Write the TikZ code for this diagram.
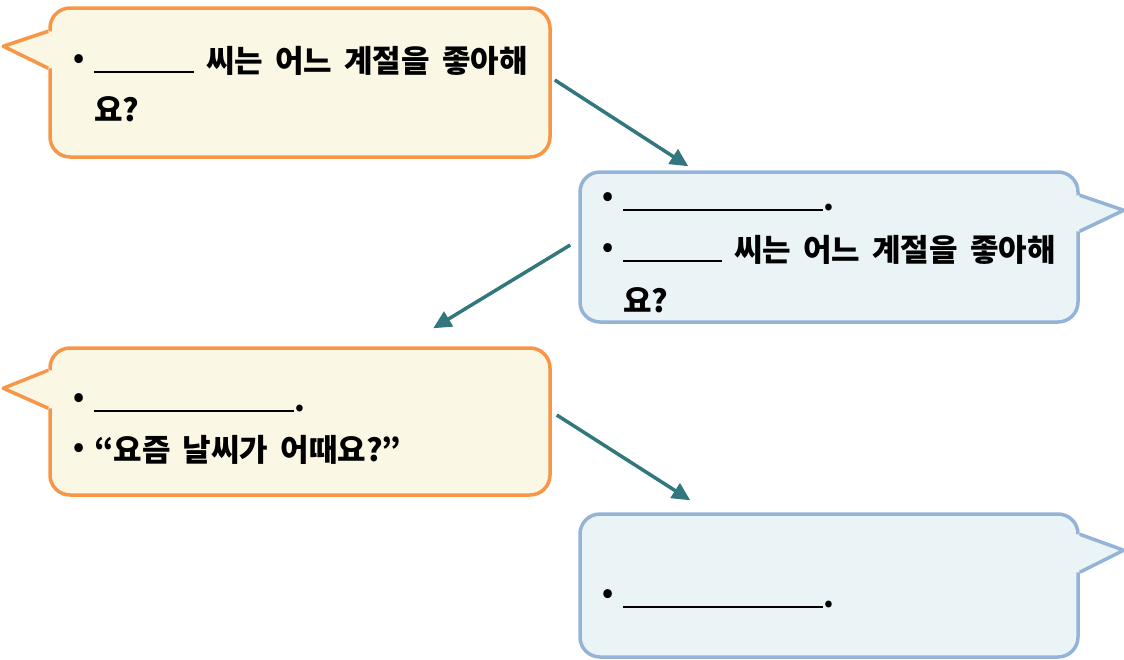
\documentclass[tikz,border=0pt]{standalone}
\usepackage{fontspec}
\setmainfont{Noto Sans CJK KR}[WordSpace=1.7]
\usetikzlibrary{arrows.meta}

\definecolor{qborder}{RGB}{247,150,70}
\definecolor{qfill}{RGB}{250,248,228}
\definecolor{aborder}{RGB}{149,179,215}
\definecolor{afill}{RGB}{234,244,247}
\definecolor{flowteal}{RGB}{49,119,125}

\newcommand{\blank}[1]{\rule[-1pt]{#1}{2pt}}
\newcommand{\bul}{\makebox[21pt][l]{\raisebox{4.5pt}{\fontsize{28}{28}\selectfont •}}}

\begin{document}
\begin{tikzpicture}[x=1pt,y=-1pt,
    qbox/.style={draw=qborder,fill=qfill,line width=3.5pt,rounded corners=20pt,minimum width=500pt},
    abox/.style={draw=aborder,fill=afill,line width=3.5pt,rounded corners=20pt,minimum width=498pt},
    qtail/.style={draw=qborder,line width=3.5pt,line join=round},
    atail/.style={draw=aborder,line width=3.5pt,line join=round},
    txt/.style={anchor=north west,inner sep=0pt,align=left,font=\bfseries\fontsize{31}{49}\selectfont},
    flow/.style={draw=flowteal,line width=3.5pt,-{Triangle[length=18pt,width=17pt]}}]
    \useasboundingbox (0,0) rectangle (1124,659);

    % speech bubbles
    \node[qbox,minimum height=149pt] (q1) at (300,82.5) {};
    \node[abox,minimum height=150pt] (a1) at (829,247) {};
    \node[qbox,minimum height=147pt] (q2) at (300,421.5) {};
    \node[abox,minimum height=143pt] (a2) at (829,585.5) {};

    % pointers
    \fill[qfill] ([xshift=5pt,yshift=-25pt]q1.north west) -- ([yshift=-25pt]q1.north west) -- ([xshift=-45pt,yshift=-40pt]q1.north west) -- ([yshift=-62pt]q1.north west) -- ([xshift=5pt,yshift=-62pt]q1.north west) -- cycle;
    \draw[qtail] ([yshift=-25pt]q1.north west) -- ([xshift=-45pt,yshift=-40pt]q1.north west) -- ([yshift=-62pt]q1.north west);
    \fill[qfill] ([xshift=5pt,yshift=-24pt]q2.north west) -- ([yshift=-24pt]q2.north west) -- ([xshift=-45pt,yshift=-42pt]q2.north west) -- ([yshift=-62pt]q2.north west) -- ([xshift=5pt,yshift=-62pt]q2.north west) -- cycle;
    \draw[qtail] ([yshift=-24pt]q2.north west) -- ([xshift=-45pt,yshift=-42pt]q2.north west) -- ([yshift=-62pt]q2.north west);
    \fill[afill] ([xshift=-5pt,yshift=-25pt]a1.north east) -- ([yshift=-25pt]a1.north east) -- ([xshift=44pt,yshift=-40pt]a1.north east) -- ([yshift=-61pt]a1.north east) -- ([xshift=-5pt,yshift=-61pt]a1.north east) -- cycle;
    \draw[atail] ([yshift=-25pt]a1.north east) -- ([xshift=44pt,yshift=-40pt]a1.north east) -- ([yshift=-61pt]a1.north east);
    \fill[afill] ([xshift=-5pt,yshift=-22pt]a2.north east) -- ([yshift=-22pt]a2.north east) -- ([xshift=44pt,yshift=-38pt]a2.north east) -- ([yshift=-60pt]a2.north east) -- ([xshift=-5pt,yshift=-60pt]a2.north east) -- cycle;
    \draw[atail] ([yshift=-22pt]a2.north east) -- ([xshift=44pt,yshift=-38pt]a2.north east) -- ([yshift=-60pt]a2.north east);

    % texts
    \node[txt] (q1t) at (73,37.7) {\strut\bul\blank{100pt} 씨는 어느 계절을 좋아해\\\hspace*{21pt}요?};
    \node[txt,font=\bfseries\fontsize{31}{51}\selectfont] (a1t) at (602,174.3) {\strut\bul\blank{200pt}.\\\bul\blank{99pt} 씨는 어느 계절을 좋아해\\\hspace*{21pt}요?};
    \node[txt,font=\bfseries\fontsize{31}{50}\selectfont] (q2t) at (73,376) {\strut\bul\blank{200pt}.\\\bul“요즘 날씨가 어때요?”};
    \node[txt,font=\bfseries\fontsize{31}{50}\selectfont] (a2t) at (602,572) {\strut\bul\blank{200pt}.};

    % arrows
    \draw[flow] ([xshift=3pt,yshift=2.5pt]q1.east) -- ([xshift=110pt,yshift=4pt]a1.north west);
    \draw[flow] ([xshift=-8pt,yshift=2pt]a1.west) -- ([xshift=385pt,yshift=18pt]q2.north west);
    \draw[flow] ([xshift=5pt,yshift=6.5pt]q2.east) -- ([xshift=112pt,yshift=12pt]a2.north west);
\end{tikzpicture}
\end{document}
